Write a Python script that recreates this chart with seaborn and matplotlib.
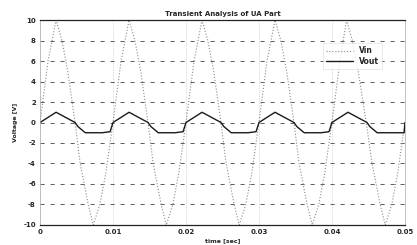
import numpy as np
import pandas as pd
import matplotlib
matplotlib.use("Agg")
import matplotlib.pyplot as plt
import seaborn as sns

# Vin samples (time in s, volts)
vin_t = [0.0000, 0.0011, 0.0022, 0.0030, 0.0038, 0.0048, 0.0055, 0.0066, 0.0073, 0.0082, 0.0090,
         0.0100, 0.0111, 0.0122, 0.0130, 0.0138, 0.0148, 0.0155, 0.0166, 0.0173, 0.0182, 0.0190,
         0.0200, 0.0211, 0.0222, 0.0230, 0.0238, 0.0248, 0.0255, 0.0266, 0.0273, 0.0282, 0.0290,
         0.0300, 0.0311, 0.0322, 0.0330, 0.0338, 0.0348, 0.0355, 0.0366, 0.0373, 0.0382, 0.0390,
         0.0400, 0.0411, 0.0420, 0.0428, 0.0436, 0.0447, 0.0455, 0.0466, 0.0473, 0.0482, 0.0490,
         0.0500]
vin_v = [0, 6, 10, 8, 5, 0, -4, -8, -10, -8, -5,
         0, 6, 10, 8, 5, 0, -4, -8, -10, -8, -5,
         0, 6, 10, 8, 5, 0, -4, -8, -10, -8, -5,
         0, 6, 10, 8, 5, 0, -4, -8, -10, -8, -5,
         0, 6, 10, 8, 5, 0, -4, -8, -10, -8, -5,
         0]

# Vout samples
vout_t = [0.0000, 0.0022, 0.0048, 0.0052, 0.0062, 0.0085, 0.0096, 0.0100,
          0.0122, 0.0148, 0.0152, 0.0162, 0.0185, 0.0196, 0.0200,
          0.0222, 0.0248, 0.0252, 0.0262, 0.0285, 0.0296, 0.0300,
          0.0322, 0.0348, 0.0352, 0.0362, 0.0385, 0.0396, 0.0400,
          0.0422, 0.0448, 0.0452, 0.0462, 0.0485, 0.0499, 0.0500]
vout_v = [0.0, 1.0, 0.0, -0.4, -1.0, -1.0, -0.9, 0.0,
          1.0, 0.0, -0.4, -1.0, -1.0, -0.9, 0.0,
          1.0, 0.0, -0.4, -1.0, -1.0, -0.9, 0.0,
          1.0, 0.0, -0.4, -1.0, -1.0, -0.9, 0.0,
          1.0, 0.0, -0.4, -1.0, -1.0, -1.0, 0.0]

x_ticks = [0, 0.01, 0.02, 0.03, 0.04, 0.05]
x_labels = ["0", "0.01", "0.02", "0.03", "0.04", "0.05"]
y_ticks = [-10, -8, -6, -4, -2, 0, 2, 4, 6, 8, 10]

df_in = pd.DataFrame({"t": vin_t, "v": vin_v})
df_out = pd.DataFrame({"t": vout_t, "v": vout_v})

sns.set_style("white")
plt.rcParams['font.family'] = ['DejaVu Sans']

fig = plt.figure(figsize=(4.17, 2.45), dpi=100)
ax = fig.add_axes([0.096, 0.082, 0.875, 0.836])

sns.lineplot(data=df_in, x="t", y="v", ax=ax, color="#8a8a8a", linestyle=":",
             linewidth=0.8, label="Vin", sort=False)
sns.lineplot(data=df_out, x="t", y="v", ax=ax, color="#1a1a1a", linestyle="-",
             linewidth=1.0, label="Vout", sort=False)

ax.set_xlim(0, 0.05)
ax.set_ylim(-10, 10)
ax.set_xticks(x_ticks)
ax.set_xticklabels(x_labels)
ax.set_yticks(y_ticks)
ax.set_yticklabels([str(v) for v in y_ticks])

# grid: dashed horizontals, faint dotted verticals
ax.yaxis.grid(True, color="#444444", linestyle=(0, (5, 7)), linewidth=0.6)
ax.xaxis.grid(True, color="#c4c4c4", linestyle=":", linewidth=0.6)

for side in ["top", "bottom"]:
    ax.spines[side].set_color("#222222")
    ax.spines[side].set_linewidth(0.9)
for side in ["left", "right"]:
    ax.spines[side].set_color("#aaaaaa")
    ax.spines[side].set_linewidth(0.5)

ax.tick_params(axis="both", labelsize=5, length=1.5, direction="in", pad=3)
for lbl in ax.get_xticklabels() + ax.get_yticklabels():
    lbl.set_fontweight("bold")

ax.set_title("Transient Analysis of UA Part", fontsize=5, fontweight="bold", pad=3)
ax.set_xlabel("time [sec]", fontsize=4.5, fontweight="bold", labelpad=2)
ax.set_ylabel("Voltage [V]", fontsize=4.5, fontweight="bold", labelpad=4)

leg = ax.legend(loc="upper left", bbox_to_anchor=(0.765, 0.905), fontsize=5.5,
                frameon=True, handlelength=3.5, borderpad=0.4, labelspacing=0.2,
                fancybox=False)
leg.get_frame().set_edgecolor("#d0d0d0")
leg.get_frame().set_linewidth(0.4)
for t in leg.get_texts():
    t.set_fontweight("bold")

fig.savefig("out.png", dpi=100)
